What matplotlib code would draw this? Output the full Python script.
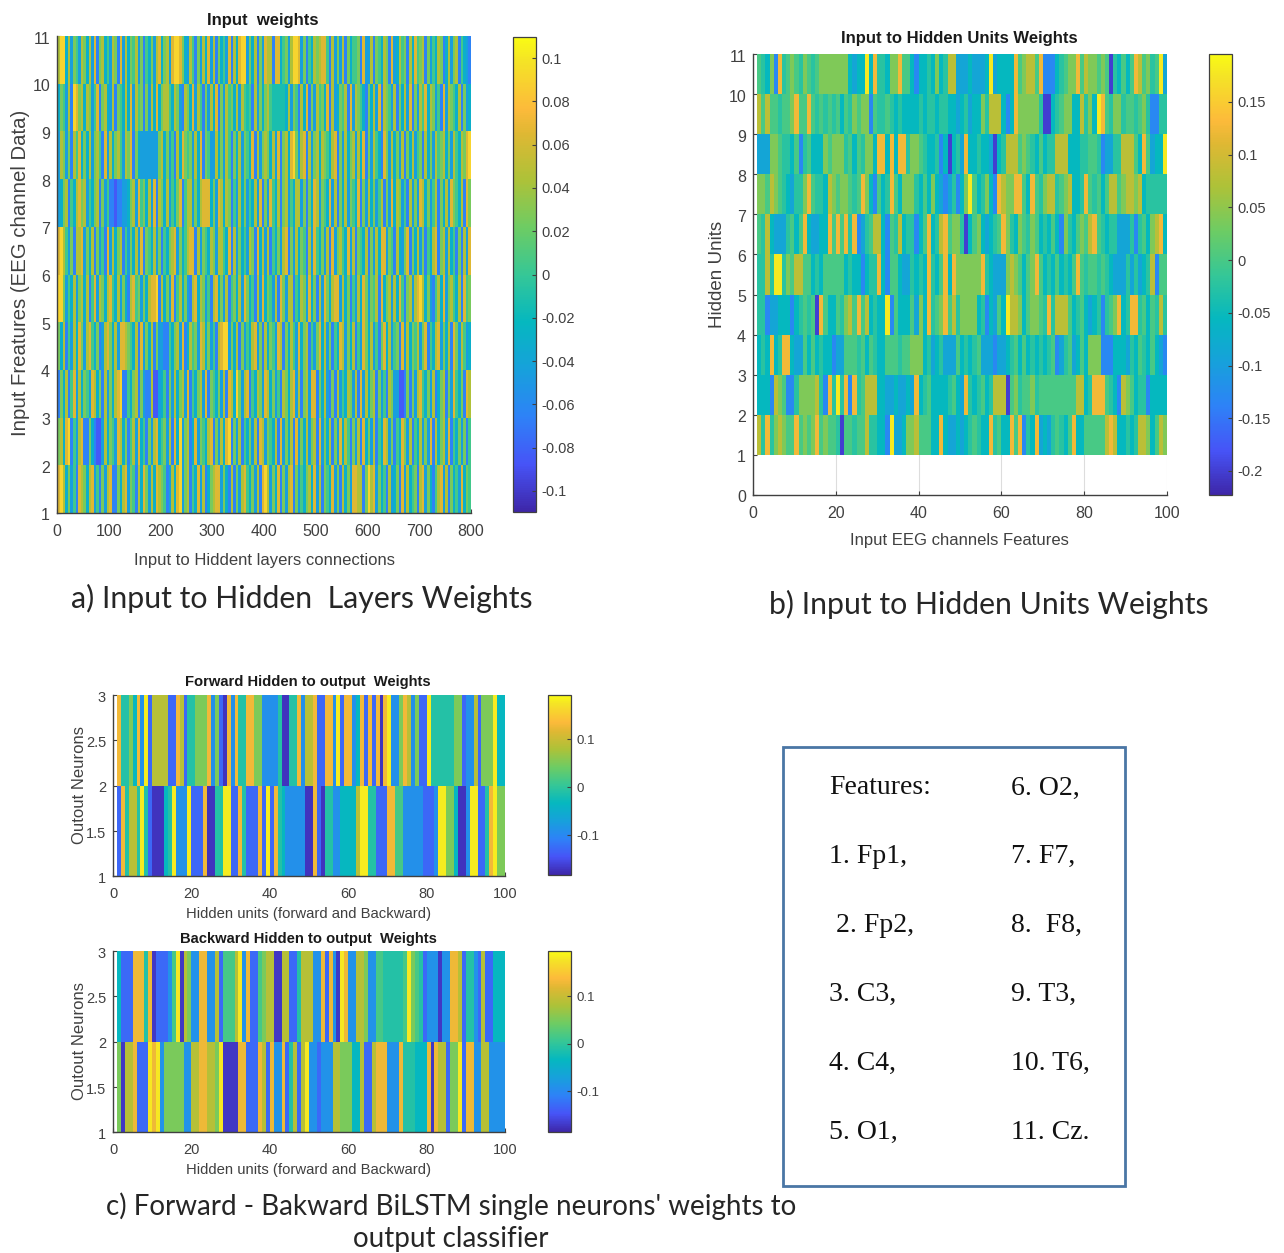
import numpy as np
import matplotlib
matplotlib.use("Agg")
import matplotlib.pyplot as plt
from matplotlib.colors import LinearSegmentedColormap
from matplotlib.patches import Rectangle
from matplotlib.transforms import ScaledTranslation

W, H = 1284, 1253

# Colour-level digit (0 dark blue ... 9 yellow) for each cell.
# Rows go from the lowest band upward.
A_ROWS = [
 "8973625187 6378251627 8116378265 1738627387 6512738926 7153827136 7882631716 2785362718 9726381627 8162536738 2716538261 7362887716 9782635172 3618273561 7826315782 7163528365",
 "6738915278 1163100273 6528736157 2835162783 5627183926 7138265378 1627389162 7153627187 2653718263 7182637267 1826371628 3751627183 6271538726 1538627153 7262817367 2815362615",
 "1637158273 6528736172 6378911536 7162117002 3516273672 8153672816 5362718739 6278153762 8736251763 7827167288 1637216172 5376271827 3671625176 2200161627 8536271367 1628536187",
 "6371527386 2785361278 6372887653 7182637162 2115367281 3756287362 5178992637 1625378261 7365287163 7528367152 6837261538 7263715286 3725168372 5618273657 2681537826 3718627523",
 "9962537267 3715827637 8537263178 5626378891 7362815736 2178376251 7836271563 7286351728 3652718627 7153762836 1728637882 7361527386 2657183672 7385167278 9736215738 2675371856",
 "8975261778 2637162518 2736715263 7281653726 1536782635 7881726537 6277538172 6352761837 2715362781 6273651728 5362718267 5382716537 1627388265 1732681637 2615378167 2735161728",
 "2367153786 7253671625 1101122367 2856372817 6372536815 7726378883 6287376152 7362537281 6285371672 5377261638 7265382716 3726538162 7362571628 3762517262 8736257163 7286537186",
 "2762617583 6372675182 7367527681 6322222226 7362517386 5627381652 2736275163 7265381726 7637281673 8962781726 7376537816 2736727381 6275318627 3627163725 6173627567 3627537689",
 "3652719867 3762581673 2716537382 7561627383 6775376217 6382751627 3816275637 2754517263 6754444437 2651738162 7563817236 5718276531 6372817652 7163728162 7583762518 2765371623",
 "7993726527 6372816735 2761827365 7261536278 3672899863 2751627382 7163528173 8992637162 8771883562 7998261537 6788517262 7163556182 2716537618 2375617385 6716253761 3726715321",
]
B_ROWS = [
 "7484676558 5656856554 0554557443 3192236675 5533832232 3454338453 3858143823 2454358335 5555787334 347763576",
 "3331765114 6666741849 4818457773 3223223283 4533334532 8434534777 0564556455 5555555773 4888543176 534413333",
 "3438348832 2535343312 2555453543 3555455666 3423422253 4345222122 3453534343 4512452353 6661113332 435435321",
 "4412233313 4545085335 4675857343 3915333526 3845685746 6663413253 9776356654 8477753453 2341456834 884535474",
 "4474994657 7553435555 5343313448 3155322434 3843583866 6666843222 6765356853 4353435854 5545432224 242347155",
 "5473222453 5832233858 5848124577 3154734413 5834785664 0356323458 6436546534 3531643565 7854344222 414536783",
 "6657654324 4685443765 6654586315 3485366643 5363212413 6953463187 6688538546 7745673348 5453577567 767344444",
 "2226654435 1453336566 6453546638 8383884665 4334130342 8334332034 7775654353 4477733344 5541224477 753852339",
 "7575545568 5585454545 3546566154 4543433334 3443443323 4233647773 1386666640 0345663374 6398546645 545641144",
 "5436184565 4654566666 6632339384 4366855313 3436347722 2322239233 3385677581 1134566857 6656504353 587564592",
]
C_ROWS = [
 "1847749410 0034922291 1180044991 1841118191 8432222200 8104422333 3799441118 8552222211 1299663002 991148966",
 "8446382917 7771187144 6668261082 8448866222 2400448277 8118829188 2381818089 2268726119 4444446612 271666933",
]
D_ROWS = [
 "6077811198 9266666227 7887769000 0881118718 2281471792 2122277666 3371178882 2284443338 0877166918 822772222",
 "3111888480 1112590762 2882271555 7928115677 0077114777 2281820982 2776225544 4445965412 2202288714 421711333",
]

# Weight value for each colour level, one list per panel
A_LEVELS = [-0.085, -0.065, -0.045, -0.030, -0.012, 0.005, 0.025, 0.045, 0.065, 0.090]
B_LEVELS = [-0.200, -0.130, -0.090, -0.055, -0.025, 0.000, 0.040, 0.080, 0.125, 0.180]
C_LEVELS = [-0.172, -0.130, -0.090, -0.035, -0.010, 0.015, 0.050, 0.087, 0.128, 0.180]

A_XTICKS = [0, 100, 200, 300, 400, 500, 600, 700, 800]
A_YTICKS = [1, 2, 3, 4, 5, 6, 7, 8, 9, 10, 11]
B_XTICKS = [0, 20, 40, 60, 80, 100]
B_YTICKS = [0, 1, 2, 3, 4, 5, 6, 7, 8, 9, 10, 11]
C_YTICKS = [1, 1.5, 2, 2.5, 3]
C_YLABELS = ["1", "1.5", "2", "2.5", "3"]
A_CTICKS = [-0.1, -0.08, -0.06, -0.04, -0.02, 0, 0.02, 0.04, 0.06, 0.08, 0.1]
A_CLABELS = ["-0.1", "-0.08", "-0.06", "-0.04", "-0.02", "0", "0.02", "0.04", "0.06", "0.08", "0.1"]
B_CTICKS = [-0.2, -0.15, -0.1, -0.05, 0, 0.05, 0.1, 0.15]
B_CLABELS = ["-0.2", "-0.15", "-0.1", "-0.05", "0", "0.05", "0.1", "0.15"]
C_CTICKS = [-0.1, 0, 0.1]
C_CLABELS = ["-0.1", "0", "0.1"]

FEATURES_LEFT = ["Features:", "1. Fp1,", " 2. Fp2,", "3. C3,", "4. C4,", "5. O1,"]
FEATURES_RIGHT = ["6. O2,", "7. F7,", "8.  F8,", "9. T3,", "10. T6,", "11. Cz."]

parula = LinearSegmentedColormap.from_list("parula", [
    (0.00, (0.2422, 0.1504, 0.6603)),
    (0.10, (0.2780, 0.3300, 0.9700)),
    (0.20, (0.1786, 0.5100, 0.9700)),
    (0.30, (0.0900, 0.6300, 0.8600)),
    (0.40, (0.0200, 0.7200, 0.7500)),
    (0.50, (0.2100, 0.7800, 0.5900)),
    (0.60, (0.4300, 0.8000, 0.3900)),
    (0.70, (0.6800, 0.7600, 0.2200)),
    (0.80, (0.8800, 0.7200, 0.2000)),
    (0.85, (0.9900, 0.7300, 0.2300)),
    (0.95, (0.9600, 0.8900, 0.1500)),
    (1.00, (0.9770, 0.9840, 0.0800)),
], N=256)

GREY = "#404040"
plt.rcParams["font.family"] = ["Liberation Sans", "DejaVu Sans"]

fig = plt.figure(figsize=(W / 100, H / 100), dpi=100)


def box(x0, y0, x1, y1):
    """Axes rectangle from pixel corners (top-left origin)."""
    return [x0 / W, 1 - y1 / H, (x1 - x0) / W, (y1 - y0) / H]


def label(x, y, s, **kw):
    kw.setdefault("ha", "center")
    kw.setdefault("va", "center")
    kw.setdefault("color", GREY)
    return fig.text(x / W, 1 - y / H, s, **kw)


def matrix(rows, levels):
    idx = np.array([[int(c) for c in r.replace(" ", "")] for r in rows])
    return np.asarray(levels)[idx]


def panel(rect, cbar, values, xedges, yedges, xlim, ylim, xticks, yticks, vlim,
          cticks, clabels, fs, cfs, ylabels=None, grid=False):
    ax = fig.add_axes(box(*rect))
    if grid:
        ax.grid(axis="x", color="#dddddd", lw=0.8, zorder=0)
        ax.set_axisbelow(True)
    m = ax.pcolormesh(xedges, yedges, values, cmap=parula, vmin=vlim[0], vmax=vlim[1],
                      shading="flat", rasterized=True, zorder=2, linewidth=0)
    ax.set_xlim(*xlim)
    ax.set_ylim(*ylim)
    ax.set_xticks(xticks)
    ax.set_yticks(yticks)
    if ylabels:
        ax.set_yticklabels(ylabels)
    ax.tick_params(direction="in", length=3, width=0.8, color=GREY, labelcolor=GREY,
                   labelsize=fs)
    ax.tick_params(axis="x", pad=8)
    ax.tick_params(axis="y", pad=5)
    down = ScaledTranslation(0, -1.5 / 100, fig.dpi_scale_trans)
    for t in ax.get_yticklabels():
        t.set_transform(t.get_transform() + down)
    for s in ("top", "right"):
        ax.spines[s].set_visible(False)
    for s in ("left", "bottom"):
        ax.spines[s].set_color(GREY)
        ax.spines[s].set_linewidth(1.0)
    cax = fig.add_axes(box(*cbar))
    cb = fig.colorbar(m, cax=cax)
    cb.set_ticks(cticks)
    cb.set_ticklabels(clabels)
    cb.ax.tick_params(direction="in", length=3, width=0.8, color=GREY, labelcolor=GREY,
                      labelsize=cfs, pad=4)
    cb.outline.set_edgecolor(GREY)
    cb.outline.set_linewidth(0.9)
    return ax


# a) input weights
a = matrix(A_ROWS, A_LEVELS)
panel((57, 36, 471, 513), (513, 37, 536, 512), a,
      np.linspace(1, 800, a.shape[1] + 1), np.arange(1, a.shape[0] + 2),
      (0, 800), (1, 11), A_XTICKS, A_YTICKS, (-0.1097, 0.1097),
      A_CTICKS, A_CLABELS, 11.5, 10.5)
label(263, 20, "Input  weights", fontsize=12, fontweight="bold", color="#1a1a1a")
label(264, 560, "Input to Hiddent layers connections", fontsize=12, color=GREY)
label(21, 273, "Input Freatures (EEG channel Data)", fontsize=14.7, rotation=90)
label(302, 598.5, "a) Input to Hidden  Layers Weights", fontsize=21.8, color="#262626", family=["Lato"])

# b) input to hidden units
b = matrix(B_ROWS, B_LEVELS)
panel((753, 54, 1167, 495), (1209, 54, 1232, 495), b,
      np.arange(1, b.shape[1] + 2), np.arange(1, b.shape[0] + 2),
      (0, 100), (0, 11), B_XTICKS, B_YTICKS, (-0.2228, 0.1955),
      B_CTICKS, B_CLABELS, 11.5, 10.5, grid=True)
label(959, 39, "Input to Hidden Units Weights", fontsize=12, fontweight="bold", color="#1a1a1a")
label(959, 540, "Input EEG channels Features", fontsize=12, color=GREY)
label(717, 274, "Hidden Units", fontsize=13.5, rotation=90)
label(989, 604.5, "b) Input to Hidden Units Weights", fontsize=21.8, color="#262626", family=["Lato"])

# c) forward and backward hidden to output
c = matrix(C_ROWS, C_LEVELS)
panel((113, 695, 505, 876), (548, 695, 571, 875), c,
      np.arange(1, c.shape[1] + 2), np.arange(1, c.shape[0] + 2),
      (0, 100), (1, 3), B_XTICKS, C_YTICKS, (-0.183, 0.192),
      C_CTICKS, C_CLABELS, 10.5, 9.5, ylabels=C_YLABELS)
label(308, 682, "Forward Hidden to output  Weights", fontsize=10.6, fontweight="bold", color="#1a1a1a")
label(309, 914, "Hidden units (forward and Backward)", fontsize=10.7, color=GREY)
label(80, 785, "Outout Neurons", fontsize=12, rotation=90)

d = matrix(D_ROWS, C_LEVELS)
panel((113, 951, 505, 1132), (548, 951, 571, 1132), d,
      np.arange(1, d.shape[1] + 2), np.arange(1, d.shape[0] + 2),
      (0, 100), (1, 3), B_XTICKS, C_YTICKS, (-0.186, 0.195),
      C_CTICKS, C_CLABELS, 10.5, 9.5, ylabels=C_YLABELS)
label(308, 939, "Backward Hidden to output  Weights", fontsize=10.6, fontweight="bold", color="#1a1a1a")
label(309, 1170, "Hidden units (forward and Backward)", fontsize=10.7, color=GREY)
label(80, 1041, "Outout Neurons", fontsize=12, rotation=90)

label(451, 1206, "c) Forward - Bakward BiLSTM single neurons' weights to", fontsize=20,
      color="#262626", family=["Lato"])
label(451, 1239, "output classifier", fontsize=20, color="#262626", family=["Lato"])

# feature key
fig.add_artist(Rectangle((783 / W, 1 - 1186 / H), 342 / W, 439 / H, transform=fig.transFigure,
                         facecolor="white", edgecolor="#4a76a5", linewidth=2))
for i, (l, r) in enumerate(zip(FEATURES_LEFT, FEATURES_RIGHT)):
    y = 788 + i * 68.9
    left_x = 836 if l.startswith(" ") else 829
    label(left_x, y, l.strip(), ha="left", fontsize=20, color="#111111", family=["Liberation Serif"])
    label(1011, y, r, ha="left", fontsize=20, color="#111111", family=["Liberation Serif"])

fig.savefig("out.png", dpi=100, facecolor="white")
